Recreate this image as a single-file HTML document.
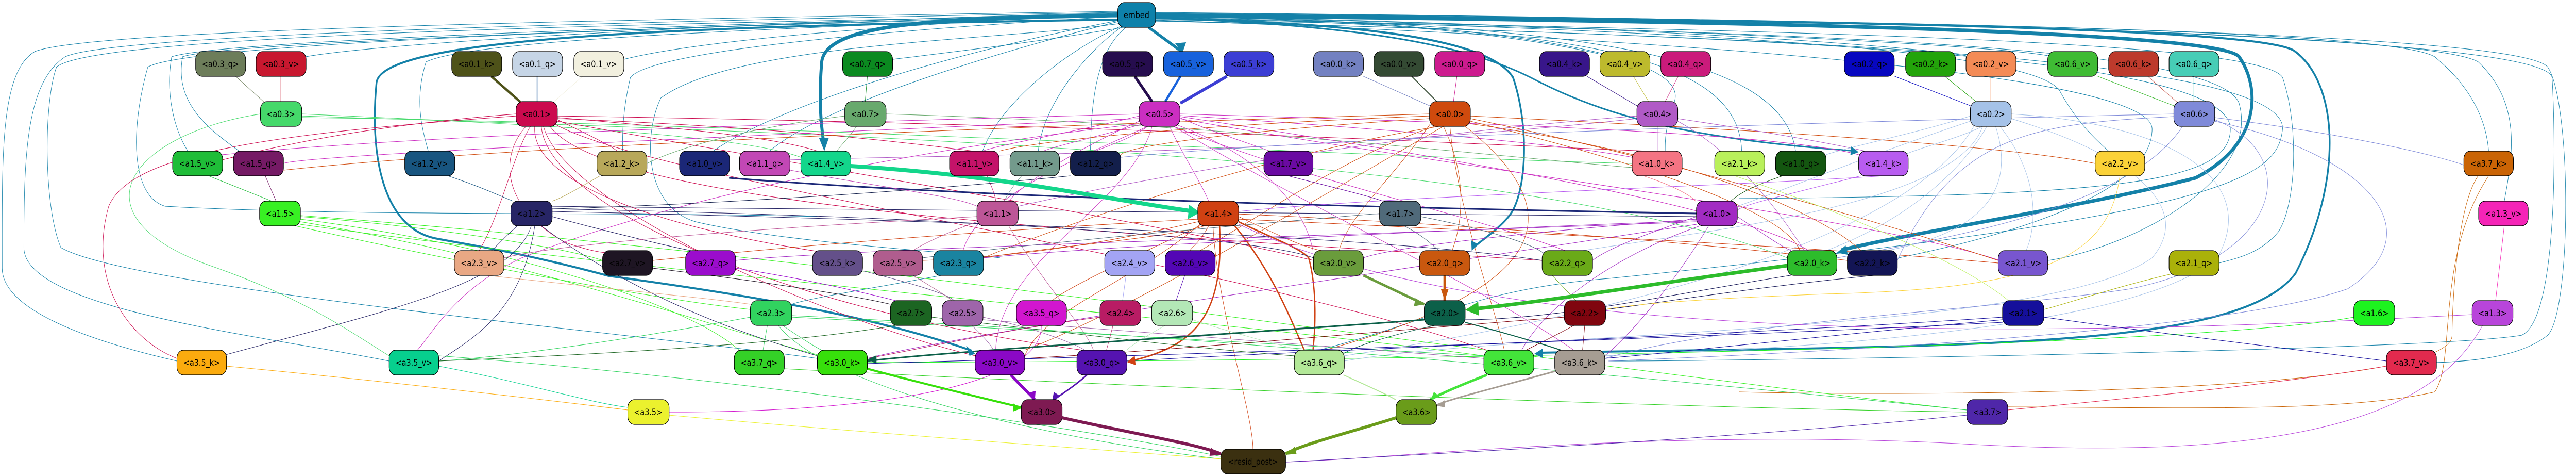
<!DOCTYPE html>
<html><head><meta charset="utf-8"><style>
html,body{margin:0;padding:0;background:#fff;width:100%;height:100%;overflow:hidden}
svg{display:block;width:100vw;height:100vh;overflow:hidden}
text{font-family:"DejaVu Sans","Liberation Sans",sans-serif;font-size:17px;text-anchor:middle;dominant-baseline:central;fill:#000}
</style></head><body>
<svg viewBox="0 0 5925 923" preserveAspectRatio="none" xmlns="http://www.w3.org/2000/svg">
<g fill="none" stroke-width="1">
<g stroke="#1481a8">
<path d="M2571 25 C1800 40 900 80 703 110"/>
<path d="M2571 27 C2000 50 1600 80 1435 115"/>
<path d="M2571 22 C1200 40 200 60 80 100 C0 140 5 300 5 520 C5 600 200 660 407 700"/>
<path d="M2571 24 C1200 45 250 70 150 110 C60 160 55 300 55 480 C55 600 600 650 895 700"/>
<path d="M2571 26 C1500 50 500 80 395 110 C380 180 400 250 432 293"/>
<path d="M2571 28 C1500 52 500 85 420 110 C400 200 480 250 550 293"/>
<path d="M2571 30 C2000 50 1100 70 980 120 C950 200 975 260 985 293"/>
<path d="M2571 30 C1000 50 200 80 130 130 C100 200 100 400 140 480 C300 560 1500 650 1880 695"/>
<path d="M2571 31 C1300 55 420 90 340 130 C300 250 300 380 380 400 C800 420 1400 410 1880 420"/>
<path d="M2571 32 C2000 60 1500 100 1450 150 C1430 220 1432 270 1432 293"/>
<path d="M2571 40 C2200 100 1800 200 1640 293"/>
<path d="M2571 42 C2300 100 1900 200 1770 293"/>
<path d="M2580 45 C2300 80 1700 80 1520 190 C1480 260 1480 400 1600 430 C1800 470 2200 490 2300 500"/>
<path d="M2590 52 C2400 80 2200 100 2054 115"/>
<path d="M2575 52 C2450 100 2300 200 2260 293"/>
<path d="M2580 52 C2500 100 2400 200 2388 293"/>
<path d="M2590 53 C2520 100 2510 200 2508 293"/>
<path d="M2658 28 C3200 40 3500 70 3676 104"/>
<path d="M2658 30 C3400 40 3900 100 3850 200 C3830 250 3830 270 3830 293"/>
<path d="M2658 32 C3600 45 4100 100 4130 293"/>
<path d="M2658 34 C3600 50 4000 100 4006 293"/>
<path d="M2658 30 C3800 50 4400 90 4522 108"/>
<path d="M2658 31 C3900 55 4600 90 4710 108"/>
<path d="M2658 33 C4000 60 4700 100 4740 180 C4780 240 4820 270 4850 293"/>
<path d="M2658 27 C4500 40 5500 60 5600 110 C5700 180 5720 250 5724 293"/>
<path d="M2658 26 C4600 40 5600 70 5700 120 C5800 200 5780 300 5760 390"/>
<path d="M2658 25 C4700 40 5800 70 5860 130 C5915 200 5915 600 5860 650 C5800 690 5700 700 5604 703"/>
<path d="M2658 24 C4800 40 5850 80 5870 150 C5880 300 5880 620 5800 650 C5600 680 4000 700 3700 700"/>
<path d="M2658 36 C4200 60 5200 80 5250 150 C5290 250 5280 400 5240 450 C5200 490 5150 500 5104 510"/>
<path d="M2658 38 C4200 60 5100 90 5150 200 C5200 350 4900 480 4712 505"/>
<path d="M2658 39 C4000 80 4950 150 4950 250 C4950 380 4600 460 4367 500"/>
<path d="M2658 40 C4000 70 5130 100 5130 250 C5130 350 4900 380 4000 385"/>
<path d="M2658 41 C4100 70 5260 110 5250 250 C5240 350 5100 420 3700 540 C3400 560 3300 620 3034 679"/>
</g>
<g stroke="#1481a8">
<path d="M2642 53 L2718 100" stroke-width="6"/>
<path d="M2571 30 C2200 35 1900 40 1890 120 C1882 200 1890 250 1895 280" stroke-width="7"/>
<path d="M2571 38 C1600 50 880 70 866 160 C850 300 880 440 1000 462 C1100 478 1200 490 1400 535 C1700 570 2000 610 2235 680" stroke-width="4"/>
<path d="M2658 35 C3100 45 3420 70 3480 150 C3520 250 3510 380 3470 420 C3440 450 3400 470 3390 480" stroke-width="4"/>
<path d="M2658 30 C4000 40 5100 60 5150 110 C5200 170 5200 280 5050 345 C4800 400 4400 450 4235 485" stroke-width="7"/>
<path d="M2658 28 C4500 40 5200 60 5276 98 C5380 160 5390 350 5280 530 C5150 680 4500 670 3540 684" stroke-width="4"/>
<path d="M2658 35 C3200 50 3400 100 3520 150 C3700 230 3900 270 4270 293" stroke-width="3"/>
</g>
<path d="M542 148 L610 200" stroke="#6d7d5a"/>
<path d="M646 148 L646 197" stroke="#c8182f"/>
<path d="M1130 148 L1200 200" stroke="#4e5219" stroke-width="5"/>
<path d="M1236 148 L1236 197" stroke="#c6d5e6" stroke-width="4"/>
<path d="M1340 148 L1270 200" stroke="#f2f0df"/>
<path d="M1995 148 L1990 197" stroke="#0b8a20"/>
<path d="M2610 148 L2650 197" stroke="#260d4e" stroke-width="6"/>
<path d="M2715 148 L2680 197" stroke="#1862dc" stroke-width="5"/>
<path d="M2822 148 L2715 200" stroke="#3c3ed4" stroke-width="6"/>
<path d="M3136 148 L3288 205" stroke="#7381c1"/>
<path d="M3247 148 L3305 197" stroke="#344a33" stroke-width="2"/>
<path d="M3351 148 L3343 197" stroke="#cd1b8f"/>
<path d="M3650 148 L3765 205" stroke="#38168a"/>
<path d="M3757 148 L3792 197" stroke="#bdba2d"/>
<path d="M3860 148 L3830 197" stroke="#ca1b7b"/>
<path d="M4358 148 L4532 205" stroke="#0707c0"/>
<path d="M4473 148 L4545 197" stroke="#23a40a"/>
<path d="M4579 148 L4579 197" stroke="#f48b56"/>
<path d="M4825 148 L5000 205" stroke="#3fbb34"/>
<path d="M4940 148 L5010 200" stroke="#bd3a2c"/>
<path d="M5046 148 L5046 197" stroke="#47cdb6"/>
<g stroke="#45d96a">
<path d="M694 221 C1200 240 1700 260 1842 305"/>
<path d="M599 221 C300 260 150 420 500 520 C700 580 800 640 895 690"/>
<path d="M694 225 C2000 260 3500 300 4111 500"/>
<path d="M694 228 C1800 240 3000 300 3754 317"/>
</g>
<g stroke="#68a96d">
<path d="M1943 225 C1700 250 1550 290 1488 317"/>
<path d="M1970 245 C1950 270 1930 285 1925 293"/>
<path d="M2037 221 C2800 240 3400 300 3754 325"/>
</g>
<g stroke="#cb0a4e">
<path d="M1282 232 C1350 260 1400 280 1420 293"/>
<path d="M1282 228 C1600 250 1800 270 1880 293"/>
<path d="M1282 225 C2500 240 3400 280 3790 293"/>
<path d="M1187 221 C900 240 700 270 511 310"/>
<path d="M1187 225 C600 260 300 300 250 400 C200 550 300 660 407 695"/>
<path d="M1210 245 C1150 300 1150 400 1300 470 C1400 500 1430 490 1443 486"/>
<path d="M1230 245 C1220 350 1500 440 1900 490"/>
<path d="M1245 245 C1260 400 1800 600 2490 679"/>
<path d="M1250 245 C1300 400 1900 620 2243 690"/>
<path d="M1220 245 C1180 300 1150 420 1102 486"/>
<path d="M1265 245 C1400 400 2500 450 3547 505"/>
<path d="M1275 240 C1500 350 2800 500 3420 679"/>
<path d="M1282 235 C1700 300 2600 420 3021 505"/>
<path d="M1282 230 C1900 250 2200 290 2241 293"/>
</g>
<g stroke="#cb2ec1">
<path d="M2620 225 C2450 260 2300 280 2260 293"/>
<path d="M2640 245 C2600 270 2540 285 2520 293"/>
<path d="M2630 240 C2500 270 2420 285 2400 293"/>
<path d="M2713 228 C2800 260 2900 285 2920 293"/>
<path d="M2713 224 C3200 250 3600 280 3754 305"/>
<path d="M2713 221 C3500 240 4100 260 4275 300"/>
<path d="M2713 226 C3300 300 4000 400 4160 486"/>
<path d="M2713 230 C3300 320 4300 420 4600 505"/>
<path d="M2640 245 C2500 300 2250 380 2215 486"/>
<path d="M2650 245 C2600 400 2300 500 2290 679"/>
<path d="M2620 240 C2000 300 1500 400 1200 500 C1050 560 1000 640 960 679"/>
<path d="M2690 245 C2720 300 2760 350 2780 390"/>
<path d="M2620 235 C2450 300 2350 360 2320 390"/>
<path d="M2700 245 C3000 350 3400 420 3600 486"/>
<path d="M2700 245 C3000 400 3400 550 3620 679"/>
<path d="M2620 221 C1800 240 1000 260 511 300"/>
<path d="M2620 230 C1800 260 700 300 652 317"/>
<path d="M2700 240 C2900 300 3000 400 3020 486"/>
</g>
<g stroke="#cf4a0d">
<path d="M3288 221 C2500 240 1200 280 652 330"/>
<path d="M3288 225 C2800 240 2400 270 2298 293"/>
<path d="M3288 230 C2900 250 2600 280 2578 300"/>
<path d="M3320 245 C3380 350 3360 440 3340 486"/>
<path d="M3382 225 C4000 250 4600 280 4819 317"/>
<path d="M3335 245 C3350 400 3440 600 3460 679"/>
<path d="M3290 240 C3200 350 3100 420 3080 486"/>
<path d="M3382 230 C3800 300 4400 450 4596 505"/>
<path d="M3300 245 C3100 300 2900 420 2760 486"/>
<path d="M3310 245 C2900 300 2400 450 2262 500"/>
<path d="M3320 245 C3000 400 2600 600 2357 679"/>
<path d="M3382 235 C3700 300 4100 400 4140 486"/>
<path d="M3382 240 C3900 300 4200 420 4280 486"/>
<path d="M3370 245 C3600 400 3600 550 3047 679"/>
</g>
<g stroke="#b05ac6">
<path d="M3812 245 L3812 293"/>
<path d="M3859 230 C4100 260 4250 285 4290 293"/>
<path d="M3859 235 C4000 300 4100 420 4150 486"/>
<path d="M3765 225 C3200 260 2600 350 2342 400"/>
<path d="M3765 230 C3000 300 2200 300 1818 310"/>
</g>
<g stroke="#a5c2e8">
<path d="M4532 225 C4400 260 4250 285 4200 300"/>
<path d="M4560 245 C4500 270 4420 285 4380 300"/>
<path d="M4600 245 C4700 350 4680 450 4660 486"/>
<path d="M4560 245 C4500 400 3900 450 3640 486"/>
<path d="M4540 245 C4400 450 3800 600 3092 690"/>
<path d="M4590 245 C4650 400 4500 460 4340 486"/>
<path d="M4570 245 C4500 350 4350 440 4200 486"/>
<path d="M4532 235 C4300 300 4100 370 3996 400"/>
<path d="M4626 221 C5000 240 5200 350 5100 500 C4900 650 4000 680 3691 690"/>
<path d="M4626 230 C4900 300 5050 400 4950 500 C4700 650 3500 640 3092 700"/>
</g>
<g stroke="#7f8ad9">
<path d="M5094 228 C5400 260 5600 300 5667 320"/>
<path d="M5094 232 C5300 300 5250 500 4900 560 C4600 600 4000 620 3691 695"/>
<path d="M5000 226 C4700 240 4500 250 4364 505"/>
<path d="M5000 221 C4000 240 3000 270 2578 305"/>
<path d="M5020 245 C4900 400 4500 460 4225 500"/>
<path d="M5094 235 C5450 300 5600 450 5400 560 C5100 650 4000 690 3700 700"/>
</g>
<path d="M480 341 L625 390" stroke="#1fbd38"/>
<path d="M610 341 L635 390" stroke="#751a65"/>
<path d="M1030 341 C1100 360 1150 380 1180 390" stroke="#185580"/>
<path d="M1380 341 C1320 370 1290 385 1270 390" stroke="#b8a85a"/>
<path d="M2462 341 C2000 380 1500 400 1270 405" stroke="#131f4b"/>
<path d="M1677 345 C2200 380 3000 400 3902 414" stroke="#1b2777" stroke-width="3"/>
<path d="M3780 341 C3850 360 3890 380 3900 390" stroke="#f47483"/>
<path d="M4100 341 C4000 370 3990 385 3980 390" stroke="#145610"/>
<path d="M4280 341 C4100 380 3990 400 3996 410" stroke="#b85cf0"/>
<path d="M2270 341 C2280 360 2290 380 2290 390" stroke="#c41369"/>
<path d="M2350 341 C2330 360 2315 380 2310 390" stroke="#739a8c"/>
<path d="M1818 330 C2000 360 2200 380 2247 400" stroke="#c247b5"/>
<path d="M2963 341 C3050 360 3150 380 3180 390" stroke="#6a0aa2"/>
<path d="M4332 341 C4000 360 3200 380 2849 410" stroke="#b85cf0"/>
<path d="M5760 438 L5740 583" stroke="#f524b7"/>
<path d="M5700 341 C5650 400 5640 600 5640 650 C5640 760 4500 770 4000 760" stroke="#ca6405"/>
<path d="M1957 322 C2300 340 2500 380 2745 410" stroke="#13d68b" stroke-width="8"/>
<polygon points="2760,412 2735,397 2732,425" fill="#13d68b"/>
<g stroke="#d04112">
<path d="M2805 438 C2815 600 2760 670 2600 700" stroke-width="3"/>
<path d="M2840 438 C2920 520 2960 600 3000 679" stroke-width="3"/>
<path d="M2849 430 C2920 460 2990 480 3010 500 C3030 560 3025 640 3020 679" stroke-width="3"/>
<path d="M2790 438 C2800 600 2882 800 2882 872"/>
<path d="M2770 438 C2700 460 2400 480 2262 500"/>
<path d="M2780 438 C2760 470 2740 480 2737 486"/>
<path d="M2760 438 C2600 500 2450 560 2420 583"/>
<path d="M2849 420 C2950 460 3000 480 3040 486"/>
<path d="M2755 430 C2500 480 2300 500 2122 505"/>
<path d="M2760 435 C2600 550 2400 600 2357 690"/>
<path d="M2849 415 C3500 440 4000 480 4249 505"/>
<path d="M2849 425 C3500 450 4200 480 4596 510"/>
<path d="M2755 425 C2200 450 1800 480 1501 505"/>
</g>
<g stroke="#38f023">
<path d="M691 420 C1000 440 1300 480 1386 505"/>
<path d="M691 425 C1200 480 1600 600 1700 679"/>
<path d="M691 430 C1200 500 1700 650 1890 690"/>
<path d="M691 435 C1400 520 2800 620 3413 690"/>
<path d="M691 418 C2000 500 3500 700 4524 795"/>
<path d="M680 438 C1000 500 1500 580 1726 600"/>
</g>
<g stroke="#272566">
<path d="M1190 438 C1160 460 1140 480 1130 486"/>
<path d="M1270 420 C1400 450 1550 480 1590 486"/>
<path d="M1222 438 C1180 550 900 600 510 690"/>
<path d="M1230 438 C1200 600 1100 650 1009 700"/>
<path d="M1245 438 C1500 600 1800 670 1880 690"/>
<path d="M1270 410 C2300 430 3200 460 3547 505"/>
<path d="M1270 405 C2200 420 2900 460 3021 500"/>
<path d="M1270 400 C2300 410 3400 420 3902 420"/>
</g>
<g stroke="#bd5697">
<path d="M2320 438 C2400 550 2500 640 2515 679"/>
<path d="M2247 430 C2150 460 2110 480 2100 486"/>
<path d="M2247 420 C1800 440 1300 470 1159 500"/>
</g>
<g stroke="#506a7a">
<path d="M3230 438 C3280 460 3300 480 3310 486"/>
<path d="M3268 420 C3450 450 3550 480 3560 500"/>
<path d="M3173 414 C2800 440 2400 470 2122 500"/>
</g>
<g stroke="#a22bc3">
<path d="M3902 420 C3800 450 3700 480 3663 505"/>
<path d="M3902 425 C3500 450 3200 480 3136 500"/>
<path d="M3902 430 C3000 460 2000 480 1692 505"/>
<path d="M3902 435 C3000 550 2200 650 1995 695"/>
<path d="M3930 438 C3850 550 3750 650 3691 690"/>
<path d="M3910 438 C3700 500 3550 600 3500 679"/>
<path d="M3996 420 C4050 450 4100 480 4120 486"/>
<path d="M3902 428 C3200 450 2500 480 2262 500"/>
</g>
<path d="M5686 610 C5000 640 3500 700 2850 435" stroke="#b845da"/>
<path d="M5710 631 C5600 800 5300 900 4500 860 C3800 830 3200 890 2957 896" stroke="#b845da"/>
<path d="M5414 615 C5000 680 3000 700 1995 703" stroke="#1df31f"/>
<path d="M1120 534 C1400 560 1650 580 1726 590" stroke="#e9a884"/>
<path d="M2165 534 C2000 560 1850 580 1821 590" stroke="#1a84a0"/>
<path d="M1501 520 C1700 540 1950 570 2048 590" stroke="#1e1523"/>
<path d="M1692 520 C1850 540 2000 570 2060 583" stroke="#9b0ccd"/>
<path d="M1984 525 C2100 550 2180 570 2195 583" stroke="#64508a"/>
<path d="M2100 534 C2150 560 2180 575 2190 583" stroke="#b05d8e"/>
<path d="M2590 534 L2582 583" stroke="#a3a4f4"/>
<path d="M2725 534 L2705 583" stroke="#5306b5"/>
<path d="M3570 534 L3625 583" stroke="#6aaa18"/>
<path d="M4310 534 C4000 560 3800 590 3693 600" stroke="#131555"/>
<path d="M4876 341 C4850 500 4700 560 4200 570 C3900 580 3750 590 3693 600" stroke="#fbd238"/>
<path d="M4653 534 L4653 583" stroke="#7856cf"/>
<path d="M5000 530 C4850 560 4750 590 4701 600" stroke="#aab10a"/>
<path d="M3990 341 C4200 400 4500 500 4620 583" stroke="#b9f05b"/>
<path d="M4225 520 C3900 560 3600 620 3370 620" stroke="#131555"/>
<path d="M3136 534 C3200 560 3250 580 3276 590" stroke="#6a9c3c" stroke-width="5"/>
<path d="M3323 534 L3323 583" stroke="#c9580f" stroke-width="6"/>
<path d="M4111 515 C3800 550 3600 580 3380 600" stroke="#2dbc2b" stroke-width="7"/>
<polygon points="3370,601 3400,585 3402,612" fill="#2dbc2b"/>
<g stroke="#31d35f">
<path d="M1765 631 L1755 679"/>
<path d="M1800 631 C1850 660 1880 675 1890 679"/>
<path d="M1726 615 C1500 650 1200 690 1009 700"/>
<path d="M1821 615 C2400 640 3000 670 3413 690"/>
<path d="M1790 631 C1900 750 2400 850 2808 890"/>
<path d="M1821 612 C2800 650 4000 750 4524 795"/>
</g>
<path d="M2060 631 C1800 670 1300 690 1009 700" stroke="#1c6522"/>
<path d="M2143 615 C2500 650 2800 680 2977 690" stroke="#1c6522"/>
<path d="M2235 631 C2260 650 2280 670 2285 679" stroke="#9e65aa"/>
<path d="M2261 615 C2400 640 2480 670 2495 679" stroke="#9e65aa"/>
<path d="M2261 620 C2700 650 3200 680 3413 695" stroke="#9e65aa"/>
<path d="M2560 631 L2545 679" stroke="#b81c64"/>
<path d="M2530 615 C2300 640 2100 680 1995 695" stroke="#b81c64"/>
<path d="M2680 631 C2640 650 2600 670 2592 679" stroke="#b3e7b6"/>
<path d="M2743 620 C2850 650 2950 670 2990 679" stroke="#b3e7b6"/>
<path d="M2395 631 C2400 750 2000 800 1539 799" stroke="#d216cf"/>
<path d="M3276 620 C2800 650 2200 680 1995 700" stroke="#0c6049" stroke-width="3"/>
<path d="M3300 631 C3200 650 3120 670 3092 685" stroke="#0c6049"/>
<path d="M3370 625 C3480 650 3560 670 3590 679" stroke="#0c6049" stroke-width="2"/>
<path d="M3620 631 C3580 650 3530 670 3510 679" stroke="#80050f"/>
<path d="M3645 631 L3640 679" stroke="#80050f"/>
<path d="M3598 615 C3200 640 2700 680 2357 695" stroke="#80050f"/>
<path d="M4701 615 C5000 650 5300 680 5489 700" stroke="#150f9b"/>
<path d="M4606 615 C4000 650 3000 680 2592 700" stroke="#150f9b"/>
<path d="M4606 620 C4200 650 3900 680 3691 695" stroke="#150f9b"/>
<path d="M4606 625 C3800 660 2600 690 1995 705" stroke="#150f9b"/>
<path d="M521 710 C900 740 1300 780 1444 795" stroke="#fbab0e"/>
<path d="M1009 710 C1200 740 1350 780 1444 790" stroke="#07cf8e"/>
<path d="M1804 715 C2600 750 3800 790 4524 799" stroke="#34d127"/>
<path d="M5489 710 C5200 750 4800 780 4618 795" stroke="#e22a4e"/>
<path d="M5724 341 C5600 500 5650 700 5600 760 C5400 800 5000 790 4618 789" stroke="#ca6405"/>
<path d="M1995 715 C2150 750 2300 780 2349 790" stroke="#37e00b" stroke-width="4"/>
<path d="M2325 727 C2350 750 2370 765 2380 775" stroke="#8a08c6" stroke-width="6"/>
<path d="M2500 727 C2470 750 2440 765 2425 775" stroke="#5513b0" stroke-width="3"/>
<path d="M3090 727 C3150 750 3190 765 3210 775" stroke="#b3e898" stroke-width="2"/>
<path d="M3420 727 C3350 750 3310 765 3290 775" stroke="#43e43a" stroke-width="5"/>
<path d="M3576 720 C3450 750 3350 770 3305 785" stroke="#a69d93" stroke-width="3"/>
<path d="M2443 810 C2600 840 2750 860 2808 880" stroke="#7e1a52" stroke-width="6"/>
<path d="M3211 810 C3100 840 3000 860 2957 880" stroke="#6a9c1a" stroke-width="6"/>
<path d="M1539 805 C2000 840 2500 870 2808 890" stroke="#ebf12e"/>
<path d="M4524 805 C4000 850 3300 880 2957 896" stroke="#4f27a9"/>
<path d="M1009 690 C1500 720 2300 800 2808 885" stroke="#31d35f"/>
<polygon points="2720,102 2703,84 2728,82" fill="#1481a8"/>
<polygon points="1896,293 1884,268 1906,268" fill="#1481a8"/>
<polygon points="2243,686 2222,670 2230,690" fill="#1481a8"/>
<polygon points="3385,486 3384,466 3400,474" fill="#1481a8"/>
<polygon points="4225,490 4245,476 4250,494" fill="#1481a8"/>
<polygon points="3529,686 3548,676 3548,694" fill="#1481a8"/>
<polygon points="4275,295 4258,284 4256,301" fill="#1481a8"/>
<polygon points="2592,702 2610,690 2612,708" fill="#d04112"/>
<polygon points="3323,583 3314,560 3332,560" fill="#c9580f"/>
<polygon points="3276,590 3256,578 3252,594" fill="#6a9c3c"/>
<polygon points="2380,778 2364,762 2382,758" fill="#8a08c6"/>
<polygon points="2420,778 2424,760 2438,768" fill="#5513b0"/>
<polygon points="2349,792 2330,782 2330,798" fill="#37e00b"/>
<polygon points="2808,882 2785,868 2782,884" fill="#7e1a52"/>
<polygon points="2957,882 2978,866 2982,880" fill="#6a9c1a"/>
<polygon points="3290,778 3298,760 3310,768" fill="#43e43a"/>
<polygon points="3305,787 3322,776 3324,790" fill="#a69d93"/>
<polygon points="1995,697 2016,689 2016,705" fill="#0c6049"/>
</g>

<g stroke="#000" stroke-width="1.2">
<rect x="2571" y="5" width="87" height="48" rx="15" fill="#0e81aa"/>
<rect x="450" y="100" width="115" height="48" rx="15" fill="#6d7d5a"/>
<rect x="589" y="100" width="115" height="48" rx="15" fill="#c8182f"/>
<rect x="1039" y="100" width="115" height="48" rx="15" fill="#4e5219"/>
<rect x="1179" y="100" width="115" height="48" rx="15" fill="#c6d5e6"/>
<rect x="1320" y="100" width="115" height="48" rx="15" fill="#f2f0df"/>
<rect x="1938" y="100" width="115" height="48" rx="15" fill="#0b8a20"/>
<rect x="2536" y="100" width="115" height="48" rx="15" fill="#260d4e"/>
<rect x="2676" y="100" width="115" height="48" rx="15" fill="#1862dc"/>
<rect x="2815" y="100" width="115" height="48" rx="15" fill="#3c3ed4"/>
<rect x="3021" y="100" width="115" height="48" rx="15" fill="#7381c1"/>
<rect x="3160" y="100" width="115" height="48" rx="15" fill="#344a33"/>
<rect x="3300" y="100" width="115" height="48" rx="15" fill="#cd1b8f"/>
<rect x="3541" y="100" width="115" height="48" rx="15" fill="#38168a"/>
<rect x="3680" y="100" width="115" height="48" rx="15" fill="#bdba2d"/>
<rect x="3820" y="100" width="115" height="48" rx="15" fill="#ca1b7b"/>
<rect x="4242" y="100" width="115" height="48" rx="15" fill="#0707c0"/>
<rect x="4383" y="100" width="115" height="48" rx="15" fill="#23a40a"/>
<rect x="4522" y="100" width="115" height="48" rx="15" fill="#f48b56"/>
<rect x="4710" y="100" width="115" height="48" rx="15" fill="#3fbb34"/>
<rect x="4850" y="100" width="115" height="48" rx="15" fill="#bd3a2c"/>
<rect x="4989" y="100" width="115" height="48" rx="15" fill="#47cdb6"/>
<rect x="599" y="197" width="95" height="48" rx="15" fill="#45d96a"/>
<rect x="1187" y="197" width="95" height="48" rx="15" fill="#cb0a4e"/>
<rect x="1943" y="197" width="95" height="48" rx="15" fill="#68a96d"/>
<rect x="2620" y="197" width="94" height="48" rx="15" fill="#cb2ec1"/>
<rect x="3288" y="197" width="94" height="48" rx="15" fill="#cf4a0d"/>
<rect x="3765" y="197" width="94" height="48" rx="15" fill="#b05ac6"/>
<rect x="4532" y="197" width="94" height="48" rx="15" fill="#a5c2e8"/>
<rect x="5000" y="197" width="94" height="48" rx="15" fill="#7f8ad9"/>
<rect x="397" y="293" width="115" height="48" rx="15" fill="#1fbd38"/>
<rect x="537" y="293" width="115" height="48" rx="15" fill="#751a65"/>
<rect x="931" y="293" width="115" height="48" rx="15" fill="#185580"/>
<rect x="1373" y="293" width="115" height="48" rx="15" fill="#b8a85a"/>
<rect x="1563" y="293" width="115" height="48" rx="15" fill="#1b2777"/>
<rect x="1701" y="293" width="116" height="48" rx="15" fill="#c247b5"/>
<rect x="1842" y="293" width="115" height="48" rx="15" fill="#13d68b"/>
<rect x="2184" y="293" width="114" height="48" rx="15" fill="#c41369"/>
<rect x="2323" y="293" width="114" height="48" rx="15" fill="#739a8c"/>
<rect x="2462" y="293" width="116" height="48" rx="15" fill="#131f4b"/>
<rect x="2907" y="293" width="113" height="48" rx="15" fill="#6a0aa2"/>
<rect x="3754" y="293" width="115" height="48" rx="15" fill="#f47483"/>
<rect x="3944" y="293" width="115" height="48" rx="15" fill="#b9f05b"/>
<rect x="4084" y="293" width="116" height="48" rx="15" fill="#145610"/>
<rect x="4275" y="293" width="114" height="48" rx="15" fill="#b85cf0"/>
<rect x="4819" y="293" width="114" height="48" rx="15" fill="#fbd238"/>
<rect x="5667" y="293" width="114" height="48" rx="15" fill="#ca6405"/>
<rect x="597" y="390" width="94" height="48" rx="15" fill="#38f023"/>
<rect x="1175" y="390" width="95" height="48" rx="15" fill="#272566"/>
<rect x="2247" y="390" width="95" height="48" rx="15" fill="#bd5697"/>
<rect x="2755" y="390" width="94" height="48" rx="15" fill="#d04112"/>
<rect x="3173" y="390" width="95" height="48" rx="15" fill="#506a7a"/>
<rect x="3902" y="390" width="94" height="48" rx="15" fill="#a22bc3"/>
<rect x="5701" y="390" width="114" height="48" rx="15" fill="#f524b7"/>
<rect x="1045" y="486" width="114" height="48" rx="15" fill="#e9a884"/>
<rect x="1386" y="486" width="115" height="48" rx="15" fill="#1e1523"/>
<rect x="1577" y="486" width="115" height="48" rx="15" fill="#9b0ccd"/>
<rect x="1869" y="486" width="115" height="48" rx="15" fill="#64508a"/>
<rect x="2008" y="486" width="114" height="48" rx="15" fill="#b05d8e"/>
<rect x="2147" y="486" width="115" height="48" rx="15" fill="#1a84a0"/>
<rect x="2541" y="486" width="115" height="48" rx="15" fill="#a3a4f4"/>
<rect x="2680" y="486" width="115" height="48" rx="15" fill="#5306b5"/>
<rect x="3021" y="486" width="115" height="48" rx="15" fill="#6a9c3c"/>
<rect x="3265" y="486" width="116" height="48" rx="15" fill="#c9580f"/>
<rect x="3547" y="486" width="116" height="48" rx="15" fill="#6aaa18"/>
<rect x="4111" y="486" width="114" height="48" rx="15" fill="#2dbc2b"/>
<rect x="4249" y="486" width="115" height="48" rx="15" fill="#131555"/>
<rect x="4596" y="486" width="114" height="48" rx="15" fill="#7856cf"/>
<rect x="4989" y="486" width="115" height="48" rx="15" fill="#aab10a"/>
<rect x="1726" y="583" width="95" height="48" rx="15" fill="#31d35f"/>
<rect x="2048" y="583" width="95" height="48" rx="15" fill="#1c6522"/>
<rect x="2167" y="583" width="94" height="48" rx="15" fill="#9e65aa"/>
<rect x="2338" y="583" width="115" height="48" rx="15" fill="#d216cf"/>
<rect x="2530" y="583" width="94" height="48" rx="15" fill="#b81c64"/>
<rect x="2649" y="583" width="94" height="48" rx="15" fill="#b3e7b6"/>
<rect x="3276" y="583" width="94" height="48" rx="15" fill="#0c6049"/>
<rect x="3598" y="583" width="95" height="48" rx="15" fill="#80050f"/>
<rect x="4606" y="583" width="95" height="48" rx="15" fill="#150f9b"/>
<rect x="5414" y="583" width="94" height="48" rx="15" fill="#1df31f"/>
<rect x="5686" y="583" width="94" height="48" rx="15" fill="#b845da"/>
<rect x="407" y="679" width="114" height="48" rx="15" fill="#fbab0e"/>
<rect x="895" y="679" width="114" height="48" rx="15" fill="#07cf8e"/>
<rect x="1689" y="679" width="115" height="48" rx="15" fill="#34d127"/>
<rect x="1880" y="679" width="115" height="48" rx="15" fill="#37e00b"/>
<rect x="2243" y="679" width="114" height="48" rx="15" fill="#8a08c6"/>
<rect x="2477" y="679" width="115" height="48" rx="15" fill="#5513b0"/>
<rect x="2977" y="679" width="115" height="48" rx="15" fill="#b3e898"/>
<rect x="3413" y="679" width="115" height="48" rx="15" fill="#43e43a"/>
<rect x="3576" y="679" width="115" height="48" rx="15" fill="#a69d93"/>
<rect x="5489" y="679" width="115" height="48" rx="15" fill="#e22a4e"/>
<rect x="1444" y="775" width="95" height="48" rx="15" fill="#ebf12e"/>
<rect x="2349" y="775" width="94" height="48" rx="15" fill="#7e1a52"/>
<rect x="3211" y="775" width="94" height="48" rx="15" fill="#6a9c1a"/>
<rect x="4524" y="775" width="94" height="48" rx="15" fill="#4f27a9"/>
<rect x="2808" y="871" width="149" height="48" rx="15" fill="#3b3010"/>
</g>

<g>
<text x="2614" y="29">embed</text>
<text x="507" y="124">&lt;a0.3_q&gt;</text>
<text x="646" y="124">&lt;a0.3_v&gt;</text>
<text x="1096" y="124">&lt;a0.1_k&gt;</text>
<text x="1236" y="124">&lt;a0.1_q&gt;</text>
<text x="1377" y="124">&lt;a0.1_v&gt;</text>
<text x="1995" y="124">&lt;a0.7_q&gt;</text>
<text x="2593" y="124">&lt;a0.5_q&gt;</text>
<text x="2733" y="124">&lt;a0.5_v&gt;</text>
<text x="2872" y="124">&lt;a0.5_k&gt;</text>
<text x="3078" y="124">&lt;a0.0_k&gt;</text>
<text x="3217" y="124">&lt;a0.0_v&gt;</text>
<text x="3357" y="124">&lt;a0.0_q&gt;</text>
<text x="3598" y="124">&lt;a0.4_k&gt;</text>
<text x="3737" y="124">&lt;a0.4_v&gt;</text>
<text x="3877" y="124">&lt;a0.4_q&gt;</text>
<text x="4300" y="124">&lt;a0.2_q&gt;</text>
<text x="4440" y="124">&lt;a0.2_k&gt;</text>
<text x="4579" y="124">&lt;a0.2_v&gt;</text>
<text x="4767" y="124">&lt;a0.6_v&gt;</text>
<text x="4907" y="124">&lt;a0.6_k&gt;</text>
<text x="5046" y="124">&lt;a0.6_q&gt;</text>
<text x="646" y="221">&lt;a0.3&gt;</text>
<text x="1234" y="221">&lt;a0.1&gt;</text>
<text x="1990" y="221">&lt;a0.7&gt;</text>
<text x="2667" y="221">&lt;a0.5&gt;</text>
<text x="3335" y="221">&lt;a0.0&gt;</text>
<text x="3812" y="221">&lt;a0.4&gt;</text>
<text x="4579" y="221">&lt;a0.2&gt;</text>
<text x="5047" y="221">&lt;a0.6&gt;</text>
<text x="454" y="317">&lt;a1.5_v&gt;</text>
<text x="594" y="317">&lt;a1.5_q&gt;</text>
<text x="988" y="317">&lt;a1.2_v&gt;</text>
<text x="1430" y="317">&lt;a1.2_k&gt;</text>
<text x="1620" y="317">&lt;a1.0_v&gt;</text>
<text x="1759" y="317">&lt;a1.1_q&gt;</text>
<text x="1900" y="317">&lt;a1.4_v&gt;</text>
<text x="2241" y="317">&lt;a1.1_v&gt;</text>
<text x="2380" y="317">&lt;a1.1_k&gt;</text>
<text x="2520" y="317">&lt;a1.2_q&gt;</text>
<text x="2963" y="317">&lt;a1.7_v&gt;</text>
<text x="3811" y="317">&lt;a1.0_k&gt;</text>
<text x="4001" y="317">&lt;a2.1_k&gt;</text>
<text x="4142" y="317">&lt;a1.0_q&gt;</text>
<text x="4332" y="317">&lt;a1.4_k&gt;</text>
<text x="4876" y="317">&lt;a2.2_v&gt;</text>
<text x="5724" y="317">&lt;a3.7_k&gt;</text>
<text x="644" y="414">&lt;a1.5&gt;</text>
<text x="1222" y="414">&lt;a1.2&gt;</text>
<text x="2294" y="414">&lt;a1.1&gt;</text>
<text x="2802" y="414">&lt;a1.4&gt;</text>
<text x="3220" y="414">&lt;a1.7&gt;</text>
<text x="3949" y="414">&lt;a1.0&gt;</text>
<text x="5758" y="414">&lt;a1.3_v&gt;</text>
<text x="1102" y="510">&lt;a2.3_v&gt;</text>
<text x="1443" y="510">&lt;a2.7_v&gt;</text>
<text x="1634" y="510">&lt;a2.7_q&gt;</text>
<text x="1926" y="510">&lt;a2.5_k&gt;</text>
<text x="2065" y="510">&lt;a2.5_v&gt;</text>
<text x="2204" y="510">&lt;a2.3_q&gt;</text>
<text x="2598" y="510">&lt;a2.4_v&gt;</text>
<text x="2737" y="510">&lt;a2.6_v&gt;</text>
<text x="3078" y="510">&lt;a2.0_v&gt;</text>
<text x="3323" y="510">&lt;a2.0_q&gt;</text>
<text x="3605" y="510">&lt;a2.2_q&gt;</text>
<text x="4168" y="510">&lt;a2.0_k&gt;</text>
<text x="4306" y="510">&lt;a2.2_k&gt;</text>
<text x="4653" y="510">&lt;a2.1_v&gt;</text>
<text x="5046" y="510">&lt;a2.1_q&gt;</text>
<text x="1773" y="607">&lt;a2.3&gt;</text>
<text x="2095" y="607">&lt;a2.7&gt;</text>
<text x="2214" y="607">&lt;a2.5&gt;</text>
<text x="2395" y="607">&lt;a3.5_q&gt;</text>
<text x="2577" y="607">&lt;a2.4&gt;</text>
<text x="2696" y="607">&lt;a2.6&gt;</text>
<text x="3323" y="607">&lt;a2.0&gt;</text>
<text x="3645" y="607">&lt;a2.2&gt;</text>
<text x="4653" y="607">&lt;a2.1&gt;</text>
<text x="5461" y="607">&lt;a1.6&gt;</text>
<text x="5733" y="607">&lt;a1.3&gt;</text>
<text x="464" y="703">&lt;a3.5_k&gt;</text>
<text x="952" y="703">&lt;a3.5_v&gt;</text>
<text x="1746" y="703">&lt;a3.7_q&gt;</text>
<text x="1937" y="703">&lt;a3.0_k&gt;</text>
<text x="2300" y="703">&lt;a3.0_v&gt;</text>
<text x="2534" y="703">&lt;a3.0_q&gt;</text>
<text x="3034" y="703">&lt;a3.6_q&gt;</text>
<text x="3470" y="703">&lt;a3.6_v&gt;</text>
<text x="3633" y="703">&lt;a3.6_k&gt;</text>
<text x="5546" y="703">&lt;a3.7_v&gt;</text>
<text x="1491" y="799">&lt;a3.5&gt;</text>
<text x="2396" y="799">&lt;a3.0&gt;</text>
<text x="3258" y="799">&lt;a3.6&gt;</text>
<text x="4571" y="799">&lt;a3.7&gt;</text>
<text x="2882" y="895">&lt;resid_post&gt;</text>
</g>
</svg>
</body></html>
